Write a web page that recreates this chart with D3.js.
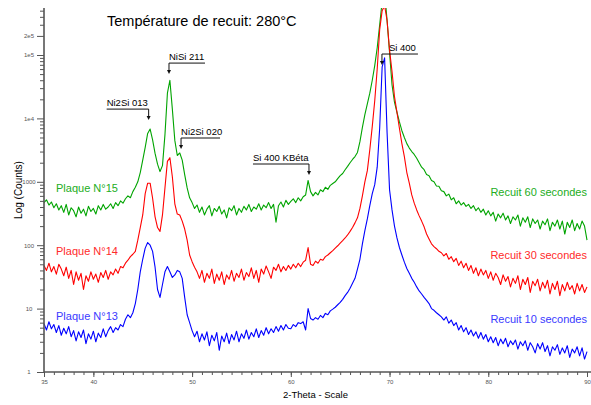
<!DOCTYPE html>
<html>
<head>
<meta charset="utf-8">
<script src="https://cdn.jsdelivr.net/npm/d3@7"></script>
<style>
body { margin: 0; background: #fff; }
svg { display: block; font-family: Arial, "Liberation Sans", Helvetica, sans-serif; }
</style>
</head>
<body>
<div class="xrd"></div>
<script>
// 2-theta grid: 35 -> 90 by 0.25 (one row below = one degree)
const angleStart = 35, angleStep = 0.25;

// Recuit 60 secondes (Plaque N°15)
const counts60 = [
  470, 520, 430, 480,  390, 450, 360, 420,  330, 440, 300, 390,  350, 280, 400, 320,
  370, 290, 410, 340,  380, 310, 420, 360,  440, 370, 400, 450,  380, 470, 420, 500,
  460, 540, 600, 560,  700, 820, 1000, 1400,  2200, 3500, 5800, 6800,  4600, 2800, 1900, 1450,
  1800, 5500, 25000, 40000,  14000, 4500, 2600, 2850,  2200, 1300, 800, 560,
  470, 380, 430, 330,  400, 300, 370, 420,  290, 380, 340, 410,  310, 360, 270, 390,
  350, 420, 300, 380,  330, 410, 360, 440,  340, 400, 370, 450,  360, 430, 390, 470,
  380, 440, 230, 420,  480, 400, 510, 440,  490, 540, 470, 560,  500, 580, 620, 1050,
  700, 600, 680, 620,  750, 700, 820, 760,  880, 940, 1000, 1120,  1250, 1350, 1550, 1750,
  2000, 2250, 2500, 2900,  4300, 7200, 11500, 17000,  25000, 40000, 68000, 130000,
  300000, 700000, 1000000, 350000,  110000, 34000, 18000, 12500,  8800, 6400, 5000, 4000,
  3400, 3000, 2700, 2350,  2000, 1700, 1550, 1300,  1250, 1050, 1000, 860,  850, 720, 700, 600,
  640, 520, 560, 450,  500, 430, 470, 410,  440, 380, 420, 350,  390, 330, 370, 300,
  350, 290, 330, 240,  310, 270, 320, 250,  290, 220, 280, 250,  300, 200, 270, 230,
  280, 190, 260, 220,  250, 180, 240, 210,  260, 170, 230, 200,  250, 180, 240, 150,
  230, 190, 250, 170,  220, 180, 240, 200,  120
];

// Recuit 30 secondes (Plaque N°14)
const counts30 = [
  48, 40, 52, 38,  46, 35, 50, 42,  33, 45, 30, 40,  24, 38, 28, 36,
  20, 33, 27, 38,  29, 35, 26, 37,  31, 40, 29, 38,  34, 42, 36, 46,
  44, 52, 58, 66,  72, 80, 120, 190,  300, 650, 950, 950,  550, 280, 190, 165,
  300, 800, 2100, 2400,  1200, 450, 310, 300,  240, 180, 120, 70,
  55, 45, 38, 30,  40, 26, 36, 30,  42, 25, 35, 28,  38, 24, 34, 29,
  40, 27, 36, 31,  42, 28, 37, 32,  44, 30, 40, 26,  42, 35, 47, 38,
  30, 45, 40, 50,  38, 46, 40, 48,  42, 50, 44, 52,  46, 54, 58, 92,
  50, 48, 56, 52,  60, 58, 66, 70,  76, 82, 90, 98,  108, 118, 130, 145,
  165, 190, 225, 270,  380, 600, 1000, 1500,  3200, 7500, 19000, 60000,
  250000, 500000, 600000, 350000,  120000, 55000, 22000, 12500,  7000, 4000, 2500, 1400,
  950, 620, 460, 360,  290, 240, 195, 150,  125, 105, 95, 88,  80, 76, 68, 74,
  60, 66, 55, 62,  48, 56, 44, 52,  40, 48, 36, 44,  33, 42, 34, 40,
  30, 38, 28, 36,  31, 24, 34, 27,  32, 22, 30, 25,  33, 20, 29, 24,
  31, 18, 27, 23,  29, 19, 26, 21,  28, 17, 25, 20,  27, 16, 24, 19,
  26, 20, 23, 17,  25, 19, 24, 18,  22
];

// Recuit 10 secondes (Plaque N°13)
const counts10 = [
  5.8, 4.6, 6.2, 4.8,  5.6, 4.2, 5.4, 3.8,  4.9, 4.0, 5.2, 3.6,  4.5, 3.1, 4.3, 3.5,
  4.6, 2.8, 4.0, 3.3,  4.4, 3.0, 4.1, 3.5,  4.8, 3.6, 4.5, 5.2,  4.2, 5.0, 4.6, 5.6,
  5.2, 6.8, 8.0, 7.2,  8.6, 12, 20, 38,  60, 90, 110, 100,  80, 45, 20, 15,
  24, 38, 46, 38,  31, 34, 40, 38,  30, 15, 8, 6,
  4.5, 3.6, 4.4, 3.0,  4.0, 3.2, 4.3, 2.6,  3.8, 3.1, 4.2, 2.2,  3.7, 3.0, 4.1, 2.8,
  3.9, 3.2, 4.4, 3.0,  4.0, 3.4, 4.6, 3.3,  4.2, 3.6, 4.8, 3.5,  4.5, 3.8, 5.0, 4.0,
  4.8, 4.2, 5.2, 4.4,  5.4, 4.6, 5.6, 4.9,  4.8, 5.6, 5.2, 6.0,  5.8, 6.2, 4.6, 10,
  7.0, 6.6, 7.2, 6.8,  7.8, 7.2, 8.4, 8.0,  9.2, 9.8, 10.5, 11.5,  12.5, 14, 16, 18,
  21, 25, 30, 42,  60, 105, 170, 260,  420, 650, 900, 1700,
  7000, 65000, 90000, 6000,  750, 360, 200, 130,  92, 70, 54, 43,
  36, 30, 26, 22,  19, 17, 15, 13.5,  12, 10, 9.4, 8.6,  8.0, 7.4, 6.6, 7.4,
  5.9, 6.6, 5.4, 6.0,  4.6, 5.4, 4.3, 5.0,  3.9, 4.6, 3.7, 4.3,  3.4, 4.2, 3.3, 3.9,
  3.0, 3.6, 2.9, 3.5,  2.6, 3.3, 2.8, 3.4,  2.5, 3.1, 2.7, 3.2,  2.3, 3.0, 2.6, 3.1,
  2.2, 2.9, 2.5, 2.0,  2.8, 2.3, 2.9, 2.1,  2.6, 1.8, 2.5, 2.2,  2.7, 1.9, 2.4, 2.0,
  2.6, 1.7, 2.3, 2.0,  2.5, 1.8, 2.4, 1.6,  2.1
];

const seriesNames = ["Recuit 60 secondes", "Recuit 30 secondes", "Recuit 10 secondes"];
const plaqueNames = ["Plaque N°15", "Plaque N°14", "Plaque N°13"];
const seriesCounts = [counts60, counts30, counts10];
const lineColors = ["#00a400", "#ff0000", "#0000ff"];
const textColors = ["#22ad22", "#ff2a2a", "#3a3aff"];

// tick labels
const xMajorTicks = [35, 40, 50, 60, 70, 80, 90];
const yLabelTicks = [1, 10, 100, 1000, 1e4, 1e5, 2e5];
const yLabelText = ["1", "10", "100", "1000", "1e4", "1e5", "2e5"];

// peak annotations: angle of arrow, counts at arrow tip
const peakLabels = ["Ni2Si 013", "NiSi 211", "Ni2Si 020", "Si 400 KBéta", "Si 400"];
const peakAngles = [45.6, 47.66, 48.88, 61.84, 69.23];
const peakTips = [9400, 50000, 3290, 1280, 69500];

const width = 591, height = 405;
const svg = d3.select(".xrd")
    .append("svg")
    .attr("width", width)
    .attr("height", height);

const x = d3.scaleLinear().domain([35, 90]).range([44, 587]);
const y = d3.scaleLog().domain([1, 1e5]).range([372, 55]);
const yTop = 8;

// clip so the saturated Si peak is cut at the top of the frame
svg.append("clipPath").attr("id", "plotClip")
    .append("rect")
    .attr("x", x(35) - 1).attr("y", yTop)
    .attr("width", x(90) - x(35) + 3).attr("height", y(1) - yTop);

// curves
const line = d3.line()
    .x((d, i) => x(angleStart + i * angleStep))
    .y(d => y(d));

svg.append("g").attr("clip-path", "url(#plotClip)")
    .selectAll("path")
    .data(seriesCounts)
    .join("path")
    .attr("d", line)
    .attr("fill", "none")
    .attr("stroke", (d, i) => lineColors[i])
    .attr("stroke-width", 1.1)
    .attr("stroke-linejoin", "round");

// x axis
const xMinor = d3.range(35, 91, 1);
const xAxisG = svg.append("g").attr("transform", `translate(0,${y(1)})`);
xAxisG.call(d3.axisBottom(x).tickValues(xMinor).tickSize(3).tickFormat(""));
xAxisG.append("g")
    .call(d3.axisBottom(x).tickValues(xMajorTicks).tickSize(5).tickFormat(d3.format("d")))
    .call(g => g.select(".domain").remove())
    .selectAll("text")
    .attr("y", 8)
    .style("font-size", "6px")
    .attr("fill", "#555");
xAxisG.selectAll(".domain").attr("d", `M${x(35)},0H${width}`);

// y axis
const yMinor = [];
[1, 10, 100, 1000, 1e4].forEach(dec => d3.range(2, 10).forEach(k => yMinor.push(k * dec)));
yMinor.push(3e5, 4e5, 5e5);
const yAxisG = svg.append("g").attr("transform", `translate(${x(35)},0)`);
yAxisG.call(d3.axisLeft(y).tickValues(yMinor).tickSize(4).tickFormat(""));
yAxisG.append("g")
    .call(d3.axisLeft(y).tickValues(yLabelTicks).tickSize(7).tickFormat((d, i) => yLabelText[i]))
    .call(g => g.select(".domain").remove())
    .selectAll("text")
    .attr("x", -15)
    .attr("text-anchor", "middle")
    .style("font-size", "6px")
    .attr("fill", "#555");
yAxisG.select(".domain").attr("d", `M0,${y(1)}V${yTop}`);

svg.selectAll(".domain").attr("stroke", "#555").attr("stroke-width", 1.6);
svg.selectAll(".tick line").attr("stroke", "#555");

// axis titles
svg.append("text")
    .attr("x", (x(35) + x(90)) / 2)
    .attr("y", 398)
    .attr("text-anchor", "middle")
    .style("font-size", "9.5px")
    .text("2-Theta - Scale");
svg.append("text")
    .attr("transform", "rotate(-90)")
    .attr("x", -190)
    .attr("y", 22)
    .attr("text-anchor", "middle")
    .style("font-size", "10px")
    .text("Log (Counts)");

// title
svg.append("text")
    .attr("x", 107)
    .attr("y", 26)
    .style("font-size", "14.5px")
    .text("Température de recuit: 280°C");

// series labels
const labelBase = [192, 255, 320];
const rightBase = [196, 259, 323];
svg.selectAll(".plaque")
    .data(plaqueNames)
    .join("text")
    .attr("class", "plaque")
    .attr("x", 56)
    .attr("y", (d, i) => labelBase[i])
    .attr("fill", (d, i) => textColors[i])
    .style("font-size", "11px")
    .text(d => d);
svg.selectAll(".recuit")
    .data(seriesNames)
    .join("text")
    .attr("class", "recuit")
    .attr("x", 587)
    .attr("y", (d, i) => rightBase[i])
    .attr("text-anchor", "end")
    .attr("fill", (d, i) => textColors[i])
    .style("font-size", "11px")
    .text(d => d);

// peak annotations: text, leader line, arrow
const leaderLen = [-42, 36, 39, -56, 36];
const textShift = [0, 0, 0, 0, 7];
peakLabels.forEach((label, i) => {
    const px = x(peakAngles[i]);
    const tipY = y(peakTips[i]);
    const barY = tipY - 11;
    const g = svg.append("g");
    g.append("path")
        .attr("d", `M${px + leaderLen[i]},${barY}H${px}V${tipY - 3}`)
        .attr("fill", "none")
        .attr("stroke", "#111")
        .attr("stroke-width", 1);
    g.append("path")
        .attr("d", `M${px - 2},${tipY - 4}L${px + 2},${tipY - 4}L${px},${tipY}Z`)
        .attr("fill", "#111");
    const tx = leaderLen[i] < 0 ? px + leaderLen[i] : px + textShift[i];
    g.append("text")
        .attr("x", tx)
        .attr("y", barY - 3)
        .style("font-size", "9.5px")
        .text(label);
});
</script>
</body>
</html>
